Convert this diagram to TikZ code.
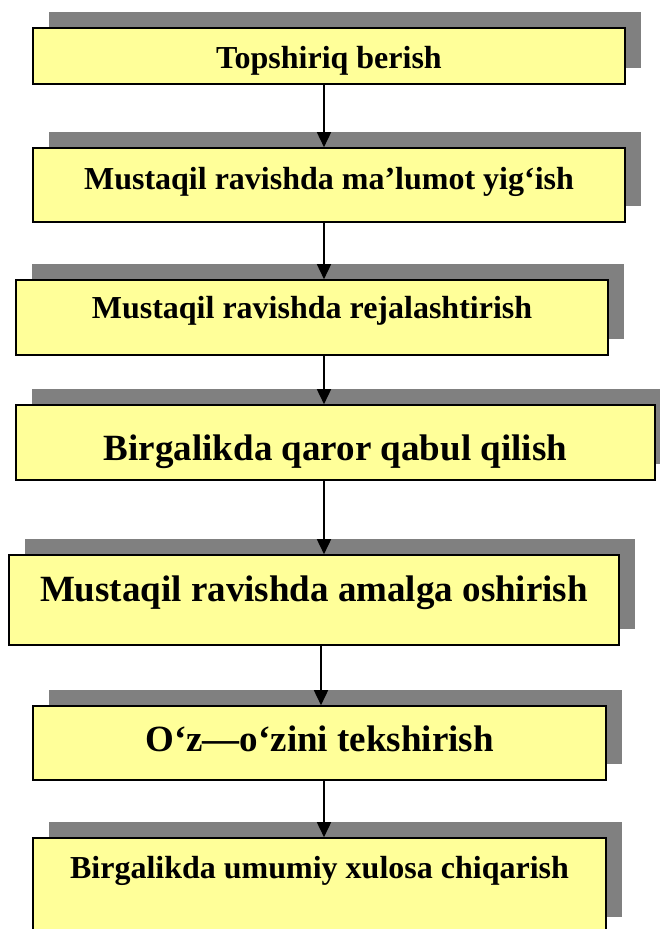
\documentclass[tikz,border=0pt]{standalone}
\usepackage{fontspec}
\setmainfont{Liberation Serif}
\usetikzlibrary{arrows.meta,shadows}
\definecolor{paleyellow}{HTML}{FFFF99}
\definecolor{shadegray}{HTML}{808080}

\begin{document}
\begin{tikzpicture}[
    x=1pt, y=-1pt,
    stage/.style={rectangle, draw=black, line width=1.6pt, fill=paleyellow,
        drop shadow={shadow xshift=15.5pt, shadow yshift=16pt,
            fill=shadegray, opacity=1},
        inner sep=0pt},
    txt/.style={anchor=base, inner sep=0pt,
        font=\bfseries\fontsize{32}{38}\selectfont},
    bigtxt/.style={txt, font=\bfseries\fontsize{37}{44}\selectfont},
    flow/.style={line width=1.6pt, -{Triangle[length=15pt, width=14pt]}}
]
    \useasboundingbox (0,0) rectangle (660,929);

    % boxes
    \node[stage, minimum width=592pt, minimum height=56pt] (b1) at (329,56) {};
    \node[stage, minimum width=592pt, minimum height=74pt] (b2) at (329,185) {};
    \node[stage, minimum width=592pt, minimum height=75pt] (b3) at (312,317.5) {};
    \node[stage, minimum width=639pt, minimum height=75pt] (b4) at (335.5,442.5) {};
    \node[stage, minimum width=610pt, minimum height=90pt] (b5) at (314,600) {};
    \node[stage, minimum width=573pt, minimum height=74pt] (b6) at (319.5,743) {};
    \node[stage, minimum width=573pt, minimum height=95pt] (b7) at (319.5,885.5) {};

    % texts
    \node[txt] (t1) at (329,68) {Topshiriq berish};
    \node[txt] (t2) at (329,189) {Mustaqil ravishda ma’lumot yig‘ish};
    \node[txt] (t3) at (312,318) {Mustaqil ravishda rejalashtirish};
    \node[bigtxt] (t4) at (335.5,460) {Birgalikda qaror qabul qilish};
    \node[bigtxt] (t5) at (314,601.5) {Mustaqil ravishda amalga oshirish};
    \node[bigtxt] (t6) at (319.5,751) {O‘z—o‘zini tekshirish};
    \node[txt] (t7) at (319.5,878) {Birgalikda umumiy xulosa chiqarish};

    % arrows
    \coordinate (ax) at (324,0);
    \coordinate (bx) at (321,0);
    \draw[flow] (b1.south -| ax) -- (b2.north -| ax);
    \draw[flow] (b2.south -| ax) -- (b3.north -| ax);
    \draw[flow] (b3.south -| ax) -- (b4.north -| ax);
    \draw[flow] (b4.south -| ax) -- (b5.north -| ax);
    \draw[flow] (b5.south -| bx) -- (b6.north -| bx);
    \draw[flow] (b6.south -| ax) -- (b7.north -| ax);
\end{tikzpicture}
\end{document}
